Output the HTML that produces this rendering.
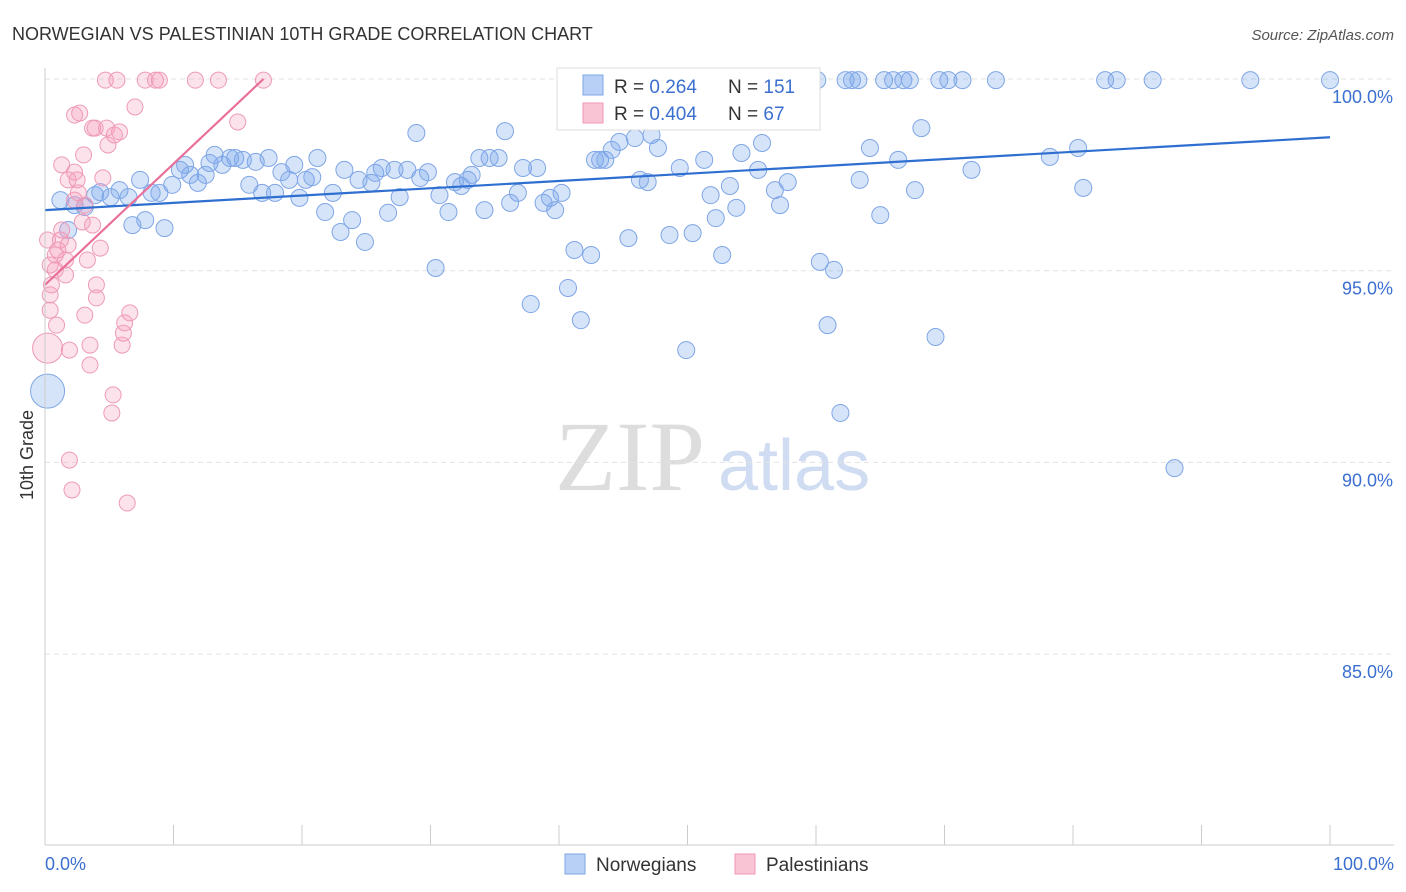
<!DOCTYPE html>
<html><head><meta charset="utf-8"><style>
body{margin:0;background:#fff;font-family:"Liberation Sans",sans-serif;}
#wrap{position:relative;width:1406px;height:892px;overflow:hidden;}
</style></head><body>
<div id="wrap">
<svg id="chart" width="1406" height="892" style="position:absolute;left:0;top:0">
<text x="12" y="40" font-size="18" fill="#333">NORWEGIAN VS PALESTINIAN 10TH GRADE CORRELATION CHART</text>
<text x="1394" y="40" font-size="15" fill="#555" text-anchor="end" font-style="italic">Source: ZipAtlas.com</text>
<text transform="translate(33,455) rotate(-90)" font-size="18" fill="#333" text-anchor="middle">10th Grade</text>
<text x="555" y="490" font-size="100" fill="#ddd" font-family="Liberation Serif">ZIP</text>
<text x="718" y="490" font-size="72" fill="#cfdcf2">atlas</text>
<g id="grid"></g><g id="pts"></g><g id="lines"></g>
<line x1="45" y1="68" x2="45" y2="845" stroke="#ccc"/>
<line x1="45" y1="845" x2="1394" y2="845" stroke="#ccc"/>
<text x="45" y="870" font-size="18" fill="#3b6fd0">0.0%</text>
<text x="1394" y="870" font-size="18" fill="#3b6fd0" text-anchor="end">100.0%</text>
<g>
<rect x="557" y="68" width="263" height="62" fill="#fff" stroke="#ddd"/>
<rect x="583" y="75" width="20" height="20" fill="#b8d0f5" stroke="#7fa6e6"/>
<rect x="583" y="103" width="20" height="20" fill="#f9c4d4" stroke="#ee9ab6"/>
<text x="614" y="93" font-size="19" fill="#333">R = <tspan fill="#3b6fd0">0.264</tspan><tspan x="728">N = </tspan><tspan fill="#3b6fd0">151</tspan></text>
<text x="614" y="120" font-size="19" fill="#333">R = <tspan fill="#3b6fd0">0.404</tspan><tspan x="728">N = </tspan><tspan fill="#3b6fd0"> 67</tspan></text>
</g>
<g>
<rect x="565" y="854" width="20" height="20" fill="#b8d0f5" stroke="#7fa6e6"/>
<text x="596" y="871" font-size="19" fill="#333">Norwegians</text>
<rect x="735" y="854" width="20" height="20" fill="#f9c4d4" stroke="#ee9ab6"/>
<text x="766" y="871" font-size="19" fill="#333">Palestinians</text>
</g>
</svg></div>
<script>
const blueX=[0.2,1.2,1.8,2.3,3.1,3.9,4.3,5.1,5.8,6.5,6.8,7.4,7.8,8.3,8.9,9.3,9.9,10.5,10.9,11.3,11.9,12.5,12.8,13.2,13.8,14.4,14.8,15.4,15.9,16.4,16.9,17.4,17.9,18.4,19.0,19.4,19.8,20.3,20.8,21.2,21.8,22.4,23.0,23.3,23.9,24.4,24.9,25.4,25.7,26.2,26.7,27.2,27.6,28.2,28.9,29.2,29.8,30.4,30.7,31.4,31.9,32.4,32.9,33.2,33.8,34.2,34.6,35.3,35.8,36.2,36.8,37.2,37.8,38.3,38.8,39.3,39.7,40.2,40.7,41.2,41.7,42.5,42.8,43.2,43.6,44.1,44.7,45.4,45.9,46.3,46.9,47.2,47.7,48.1,48.6,49.4,49.9,50.4,50.8,51.3,51.8,52.2,52.7,53.0,53.3,53.8,54.2,54.9,55.5,55.8,56.6,56.8,57.2,57.8,58.5,58.8,60.1,60.3,60.9,61.4,61.9,62.3,62.8,63.3,63.4,64.2,65.0,65.3,66.0,66.4,66.8,67.3,67.7,68.2,69.3,69.6,70.3,71.4,72.1,74.0,78.2,80.4,80.8,82.5,83.4,86.2,87.9,93.8,100.0];
const blueY=[91.86,96.84,96.06,96.71,96.66,96.97,97.05,96.92,97.10,96.92,96.19,97.37,96.32,97.03,97.03,96.11,97.24,97.63,97.76,97.50,97.29,97.50,97.81,98.02,97.76,97.94,97.94,97.89,97.24,97.84,97.03,97.94,97.03,97.57,97.37,97.76,96.90,97.37,97.44,97.94,96.53,97.03,96.01,97.63,96.32,97.37,95.75,97.29,97.55,97.68,96.51,97.63,96.92,97.63,98.59,97.42,97.57,95.07,96.97,96.53,97.31,97.21,97.37,97.50,97.94,96.58,97.94,97.94,98.64,96.77,97.03,97.68,94.13,97.68,96.77,96.90,96.58,97.03,94.55,95.54,93.71,95.41,97.89,97.89,97.89,98.15,98.36,95.85,98.46,97.37,97.31,98.54,98.20,99.14,95.93,97.68,92.93,95.98,99.97,97.89,96.97,96.37,95.41,99.97,97.21,96.64,98.07,99.97,97.63,98.33,99.74,97.10,96.71,97.31,99.11,99.06,99.97,95.23,93.58,95.02,91.29,99.97,99.97,99.97,97.37,98.20,96.45,99.97,99.97,97.89,99.97,99.97,97.10,98.72,93.27,99.97,99.97,99.97,97.63,99.97,97.97,98.20,97.16,99.97,99.97,99.97,89.85,99.97,99.97];
const pinkX=[0.2,0.2,0.4,0.4,0.4,0.5,0.8,0.8,0.9,1.0,1.2,1.3,1.3,1.6,1.6,1.8,1.8,1.9,1.9,2.1,2.3,2.3,2.3,2.5,2.6,2.7,2.9,3.0,3.1,3.1,3.3,3.5,3.5,3.7,3.7,3.9,4.0,4.0,4.3,4.5,4.7,4.8,4.9,5.2,5.3,5.4,5.6,5.8,6.0,6.1,6.2,6.4,6.6,7.0,7.8,8.6,8.9,11.7,13.5,15.0,17.0];
const pinkY=[92.98,95.80,95.15,93.97,94.37,94.63,95.02,95.41,93.58,95.54,95.80,96.06,97.76,94.89,95.28,97.37,95.67,90.06,92.93,89.28,99.06,97.57,96.84,97.37,97.03,99.11,96.27,98.02,93.84,96.71,95.28,93.06,92.54,96.19,98.72,98.72,94.63,94.29,95.59,97.42,99.97,98.72,98.28,91.29,91.76,98.54,99.97,98.62,93.06,93.37,93.64,88.94,93.90,99.27,99.97,99.97,99.97,99.97,99.97,98.88,99.97];
const yTicks=[100,95,90,85];
const yTickLabels=["100.0%","95.0%","90.0%","85.0%"];
const xTicks=[0,10,20,30,40,50,60,70,80,90,100];
const blueTrend=[96.58,98.48]; // y at x=0, x=100
const pinkTrend=[94.63,100.0,17]; // y at x=0, y at x=end, end
const sx=v=>45+v*12.85;
const sy=v=>79+(100-v)*38.34;
const NS="http://www.w3.org/2000/svg";
function mk(tag,attrs,parent){const e=document.createElementNS(NS,tag);for(const k in attrs)e.setAttribute(k,attrs[k]);parent.appendChild(e);return e;}
const grid=document.getElementById('grid');
yTicks.forEach((t,i)=>{
 const l=mk('line',{x1:45,x2:1394,y1:sy(t),y2:sy(t),stroke:'#e2e2e2','stroke-dasharray':'5,4'},grid);
 
 
 const tx=mk('text',{x:1393,y:sy(t)+24,'font-size':18,fill:'#3b6fd0','text-anchor':'end'},grid);
 tx.textContent=yTickLabels[i];
 
 
});
xTicks.forEach(t=>{
 const l=mk('line',{x1:sx(t),x2:sx(t),y1:825,y2:845,stroke:'#ccc'},grid);
 
 
});
const pts=document.getElementById('pts');
blueX.forEach((x,i)=>{
 const c=mk('circle',{cx:sx(x),cy:sy(blueY[i]),r:i===0?17:8.5,fill:'rgba(120,165,235,0.3)',stroke:'#7fa6e6','stroke-width':1},pts);
 
 
});
pinkX.forEach((x,i)=>{
 const c=mk('circle',{cx:sx(x),cy:sy(pinkY[i]),r:i===0?15:8,fill:'rgba(245,160,190,0.3)',stroke:'#ee9ab6','stroke-width':1},pts);
 
 
});
const lines=document.getElementById('lines');
const bl=mk('line',{x1:sx(0),y1:sy(blueTrend[0]),x2:sx(100),y2:sy(blueTrend[1]),stroke:'#2f6fd0','stroke-width':2.2},lines);


const pl=mk('line',{x1:sx(0),y1:sy(pinkTrend[0]),x2:sx(pinkTrend[2]),y2:sy(pinkTrend[1]),stroke:'#e8709a','stroke-width':2.2},lines);


</script>
</body></html>
